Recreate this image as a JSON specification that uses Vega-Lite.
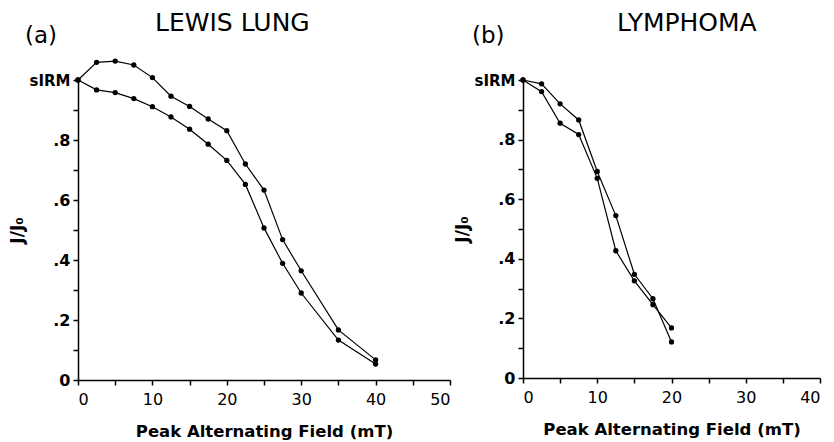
{
  "$schema": "https://vega.github.io/schema/vega-lite/v6.json",
  "background": "white",
  "padding": {"left": 8, "top": 11, "right": 5, "bottom": 0},
  "config": {
    "view": {"stroke": null},
    "font": "DejaVu Sans",
    "concat": {"spacing": 2},
    "title": {"color": "black", "font": "DejaVu Sans", "fontWeight": "normal"},
    "axis": {
      "grid": false,
      "domainColor": "black",
      "domainWidth": 1.5,
      "tickColor": "black",
      "tickWidth": 1.5,
      "tickSize": 5,
      "labelColor": "black",
      "labelFont": "DejaVu Sans",
      "labelFontWeight": "bold",
      "labelFontSize": 15,
      "titleColor": "black",
      "titleFont": "DejaVu Sans",
      "titleFontWeight": "bold",
      "titleFontSize": 14
    }
  },
  "datasets": {
    "lewis": [
      {"field": 0, "j": 1.0, "series": "upper"},
      {"field": 2.5, "j": 1.059, "series": "upper"},
      {"field": 5, "j": 1.063, "series": "upper"},
      {"field": 7.5, "j": 1.05, "series": "upper"},
      {"field": 10, "j": 1.008, "series": "upper"},
      {"field": 12.5, "j": 0.946, "series": "upper"},
      {"field": 15, "j": 0.912, "series": "upper"},
      {"field": 17.5, "j": 0.87, "series": "upper"},
      {"field": 20, "j": 0.831, "series": "upper"},
      {"field": 22.5, "j": 0.72, "series": "upper"},
      {"field": 25, "j": 0.633, "series": "upper"},
      {"field": 27.5, "j": 0.468, "series": "upper"},
      {"field": 30, "j": 0.364, "series": "upper"},
      {"field": 35, "j": 0.167, "series": "upper"},
      {"field": 40, "j": 0.067, "series": "upper"},
      {"field": 0, "j": 1.0, "series": "lower"},
      {"field": 2.5, "j": 0.967, "series": "lower"},
      {"field": 5, "j": 0.958, "series": "lower"},
      {"field": 7.5, "j": 0.938, "series": "lower"},
      {"field": 10, "j": 0.911, "series": "lower"},
      {"field": 12.5, "j": 0.877, "series": "lower"},
      {"field": 15, "j": 0.836, "series": "lower"},
      {"field": 17.5, "j": 0.786, "series": "lower"},
      {"field": 20, "j": 0.732, "series": "lower"},
      {"field": 22.5, "j": 0.652, "series": "lower"},
      {"field": 25, "j": 0.507, "series": "lower"},
      {"field": 27.5, "j": 0.389, "series": "lower"},
      {"field": 30, "j": 0.29, "series": "lower"},
      {"field": 35, "j": 0.133, "series": "lower"},
      {"field": 40, "j": 0.053, "series": "lower"}
    ],
    "lymph": [
      {"field": 0, "j": 1.0, "series": "upper"},
      {"field": 2.5, "j": 0.987, "series": "upper"},
      {"field": 5, "j": 0.92, "series": "upper"},
      {"field": 7.5, "j": 0.866, "series": "upper"},
      {"field": 10, "j": 0.693, "series": "upper"},
      {"field": 12.5, "j": 0.545, "series": "upper"},
      {"field": 15, "j": 0.348, "series": "upper"},
      {"field": 17.5, "j": 0.266, "series": "upper"},
      {"field": 20, "j": 0.121, "series": "upper"},
      {"field": 0, "j": 1.0, "series": "lower"},
      {"field": 2.5, "j": 0.961, "series": "lower"},
      {"field": 5, "j": 0.855, "series": "lower"},
      {"field": 7.5, "j": 0.817, "series": "lower"},
      {"field": 10, "j": 0.67, "series": "lower"},
      {"field": 12.5, "j": 0.427, "series": "lower"},
      {"field": 15, "j": 0.326, "series": "lower"},
      {"field": 17.5, "j": 0.246, "series": "lower"},
      {"field": 20, "j": 0.168, "series": "lower"}
    ]
  },
  "hconcat": [
    {
      "title": {"text": "LEWIS LUNG", "fontSize": 25, "anchor": "middle", "dx": 3, "offset": -11},
      "vconcat": [
        {
          "width": 372,
          "height": 300,
          "title": {"text": "(a)", "fontSize": 23, "anchor": "start", "dx": 17, "offset": 10},
          "data": {"name": "lewis"},
          "encoding": {
            "x": {"field": "field", "type": "quantitative", "scale": {"domain": [0, 50], "nice": false, "zero": false},
              "axis": {"values": [0, 5, 10, 15, 20, 25, 30, 35, 40, 45, 50], "labelExpr": "datum.value % 10 == 0 ? datum.label : ''", "title": "Peak Alternating Field (mT)", "titleFontSize": 16.5, "titlePadding": 16, "labelPadding": 6, "labelFontWeight": "normal", "labelFontSize": 16}},
            "y": {"field": "j", "type": "quantitative", "scale": {"domain": [0, 1], "nice": false},
              "axis": {"values": [0, 0.1, 0.2, 0.3, 0.4, 0.5, 0.6, 0.7, 0.8, 0.9, 1.0], "labelExpr": "datum.value == 1 ? 'sIRM' : (datum.value == 0 ? '0' : (round(datum.value * 10) % 2 == 0 ? replace(format(datum.value, '.1f'), '0.', '.') : ''))", "labelFontSize": {"condition": {"test": "datum.value == 1", "value": 15}, "value": 16}, "labelPadding": 3, "title": "J/J₀", "titleFontSize": 17, "titlePadding": 3}}
          },
          "layer": [
            {"mark": {"type": "line", "color": "black", "strokeWidth": 1.2}, "encoding": {"detail": {"field": "series"}, "order": {"field": "field"}}},
            {"mark": {"type": "point", "filled": true, "color": "black", "opacity": 1, "size": 28}}
          ]
        }
      ]
    },
    {
      "title": {"text": "LYMPHOMA", "fontSize": 25, "anchor": "middle", "dx": 50, "offset": -11},
      "vconcat": [
        {
          "width": 297,
          "height": 298,
          "title": {"text": "(b)", "fontSize": 23, "anchor": "start", "dx": 19, "offset": 25},
          "data": {"name": "lymph"},
          "encoding": {
            "x": {"field": "field", "type": "quantitative", "scale": {"domain": [0, 40], "nice": false, "zero": false},
              "axis": {"values": [0, 5, 10, 15, 20, 25, 30, 35, 40], "labelExpr": "datum.value % 10 == 0 ? datum.label : ''", "title": "Peak Alternating Field (mT)", "titleFontSize": 16.5, "titlePadding": 16, "labelPadding": 6, "labelFontWeight": "normal", "labelFontSize": 16}},
            "y": {"field": "j", "type": "quantitative", "scale": {"domain": [0, 1], "nice": false},
              "axis": {"values": [0, 0.1, 0.2, 0.3, 0.4, 0.5, 0.6, 0.7, 0.8, 0.9, 1.0], "labelExpr": "datum.value == 1 ? 'sIRM' : (datum.value == 0 ? '0' : (round(datum.value * 10) % 2 == 0 ? replace(format(datum.value, '.1f'), '0.', '.') : ''))", "labelFontSize": {"condition": {"test": "datum.value == 1", "value": 15}, "value": 16}, "labelPadding": 3, "title": "J/J₀", "titleFontSize": 17, "titlePadding": 3}}
          },
          "layer": [
            {"mark": {"type": "line", "color": "black", "strokeWidth": 1.2}, "encoding": {"detail": {"field": "series"}, "order": {"field": "field"}}},
            {"mark": {"type": "point", "filled": true, "color": "black", "opacity": 1, "size": 28}}
          ]
        }
      ]
    }
  ]
}
